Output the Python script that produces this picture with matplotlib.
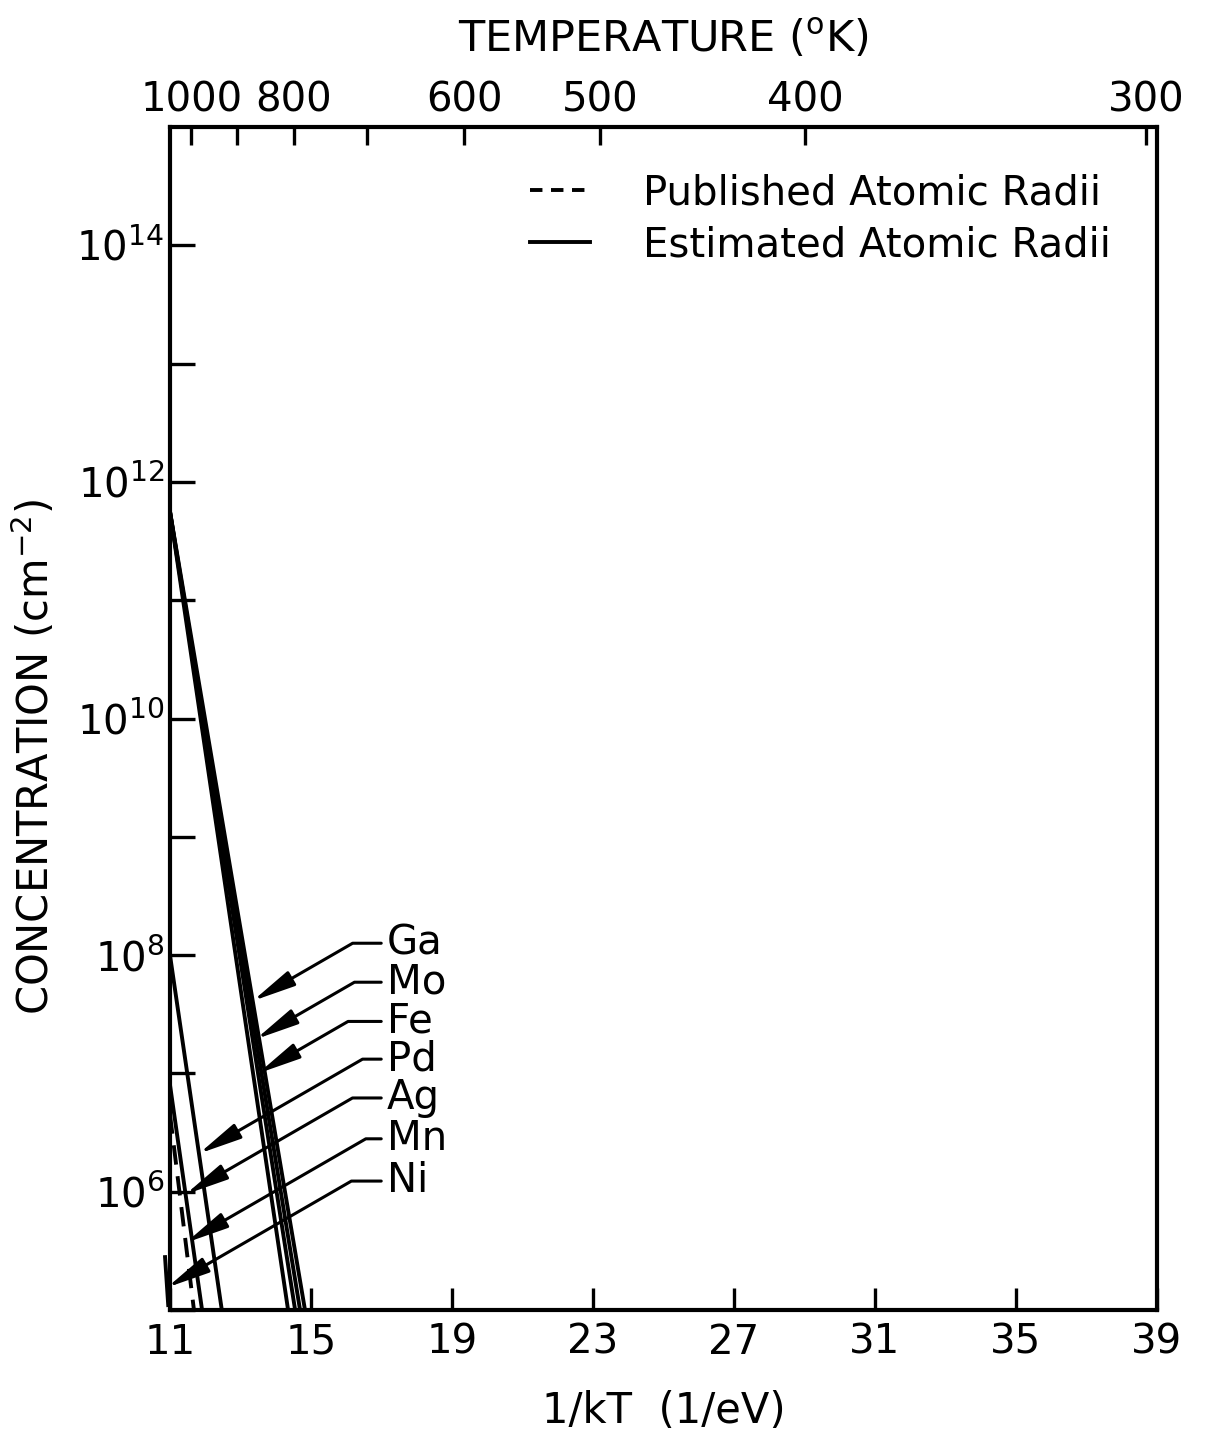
import numpy as np
import matplotlib.pyplot as plt
from matplotlib.lines import Line2D

# Boltzmann constant (eV/K) for the temperature scale on top
K_B = 8.617e-5

# Lines: start / end points in 1/kT (1/eV) and concentration (cm^-2)
labels = ['Ga', 'Mo', 'Fe', '', 'Pd', 'Ag', 'Mn', 'Ni']
x_start = [11.0, 11.0, 11.0, 11.0, 11.0, 11.0, 11.0, 10.86]
x_end = [14.83, 14.69, 14.55, 14.35, 12.47, 11.91, 11.68, 10.95]
c_start = [5.6e11, 5.6e11, 5.6e11, 5.6e11, 1.0e8, 8.0e6, 4.5e6, 2.8e5]
c_end = [1e5, 1e5, 1e5, 1e5, 1e5, 1e5, 1e5, 1.1e5]
published = [False, False, False, False, False, False, True, False]

# where the label arrows touch each line (concentration)
arrow_c = [4.1e7, 1.95e7, 1.0e7, None, 2.1e6, 9.5e5, 3.7e5, 1.55e5]
# label heights (concentration)
label_c = [1.26e8, 5.9e7, 2.75e7, None, 1.32e7, 6.2e6, 2.8e6, 1.23e6]
label_x = 17.15

temp_ticks = [1000, 900, 800, 700, 600, 500, 400, 300]
temp_labels = ['1000', '', '800', '', '600', '500', '400', '300']
x_ticks = [11, 15, 19, 23, 27, 31, 35, 39]
y_major = [1e6, 1e8, 1e10, 1e12, 1e14]
y_minor = [1e5, 1e7, 1e9, 1e11, 1e13]

plt.rcParams['font.family'] = 'DejaVu Sans'
fs = 29

fig = plt.figure(figsize=(12.09, 14.35), dpi=100)
ax = fig.add_axes([0.1406, 0.0871, 0.8164, 0.8244])

for i in range(len(labels)):
    xs = [x_start[i], x_end[i]]
    cs = [c_start[i], c_end[i]]
    if published[i]:
        ax.plot(xs, cs, color='black', lw=2.8, ls=(0, (5, 3)))
    else:
        ax.plot(xs, cs, color='black', lw=2.8, clip_on=(x_start[i] >= 11))

# labels with leader arrows
for i in range(len(labels)):
    if not labels[i]:
        continue
    lx0, lx1 = np.log10(c_start[i]), np.log10(c_end[i])
    frac = (np.log10(arrow_c[i]) - lx0) / (lx1 - lx0)
    tip_x = x_start[i] + frac * (x_end[i] - x_start[i])
    ax.annotate(labels[i], xy=(tip_x, arrow_c[i]), xytext=(label_x, label_c[i]),
                fontsize=fs, ha='left', va='center', annotation_clip=False,
                arrowprops=dict(arrowstyle='-|>,head_length=0.9,head_width=0.17',
                                connectionstyle='angle,angleA=0,angleB=30,rad=0',
                                color='black', lw=2.2, shrinkA=2, shrinkB=0))

ax.set_yscale('log')
ax.set_xlim(11, 39)
ax.set_ylim(1e5, 1e15)

ax.set_xticks(x_ticks)
ax.set_xticklabels([str(t) for t in x_ticks])
ax.set_yticks(y_major)
ax.set_yticklabels([r'$10^{%d}$' % int(np.log10(v)) for v in y_major])
ax.set_yticks(y_minor, minor=True)
ax.yaxis.set_minor_formatter(plt.NullFormatter())

ax.tick_params(axis='x', direction='in', length=16, width=2.4, labelsize=fs, pad=9, top=False)
ax.tick_params(axis='y', which='both', direction='in', length=18, width=2.4, labelsize=fs, pad=4, right=False)

for spine in ax.spines.values():
    spine.set_linewidth(3)

# temperature scale on top
def inv(x):
    x = np.asarray(x, dtype=float)
    with np.errstate(divide='ignore'):
        return np.where(x != 0, 1.0 / (K_B * np.where(x != 0, x, 1.0)), np.inf)

top = ax.secondary_xaxis('top', functions=(inv, inv))
top.set_xticks(temp_ticks)
top.set_xticklabels(temp_labels)
top.tick_params(direction='in', length=13, width=2.4, labelsize=fs, pad=5)
top.set_xlabel(r'TEMPERATURE ($\mathregular{^o}$K)', fontsize=31, labelpad=20)

ax.set_xlabel('1/kT  (1/eV)', fontsize=30, labelpad=20)
ax.set_ylabel(r'CONCENTRATION (cm$^{-2}$)', fontsize=30)
ax.yaxis.set_label_coords(-0.113, 0.4675)

handles = [Line2D([], [], color='black', lw=2.8, ls=(0, (3.2, 2.2))),
           Line2D([], [], color='black', lw=2.8)]
ax.legend(handles, ['Published Atomic Radii', 'Estimated Atomic Radii'],
          loc='upper right', frameon=False, fontsize=fs, handlelength=1.5,
          handletextpad=1.3, labelspacing=0.3, borderaxespad=0.75)

fig.savefig('out.png', dpi=100)
